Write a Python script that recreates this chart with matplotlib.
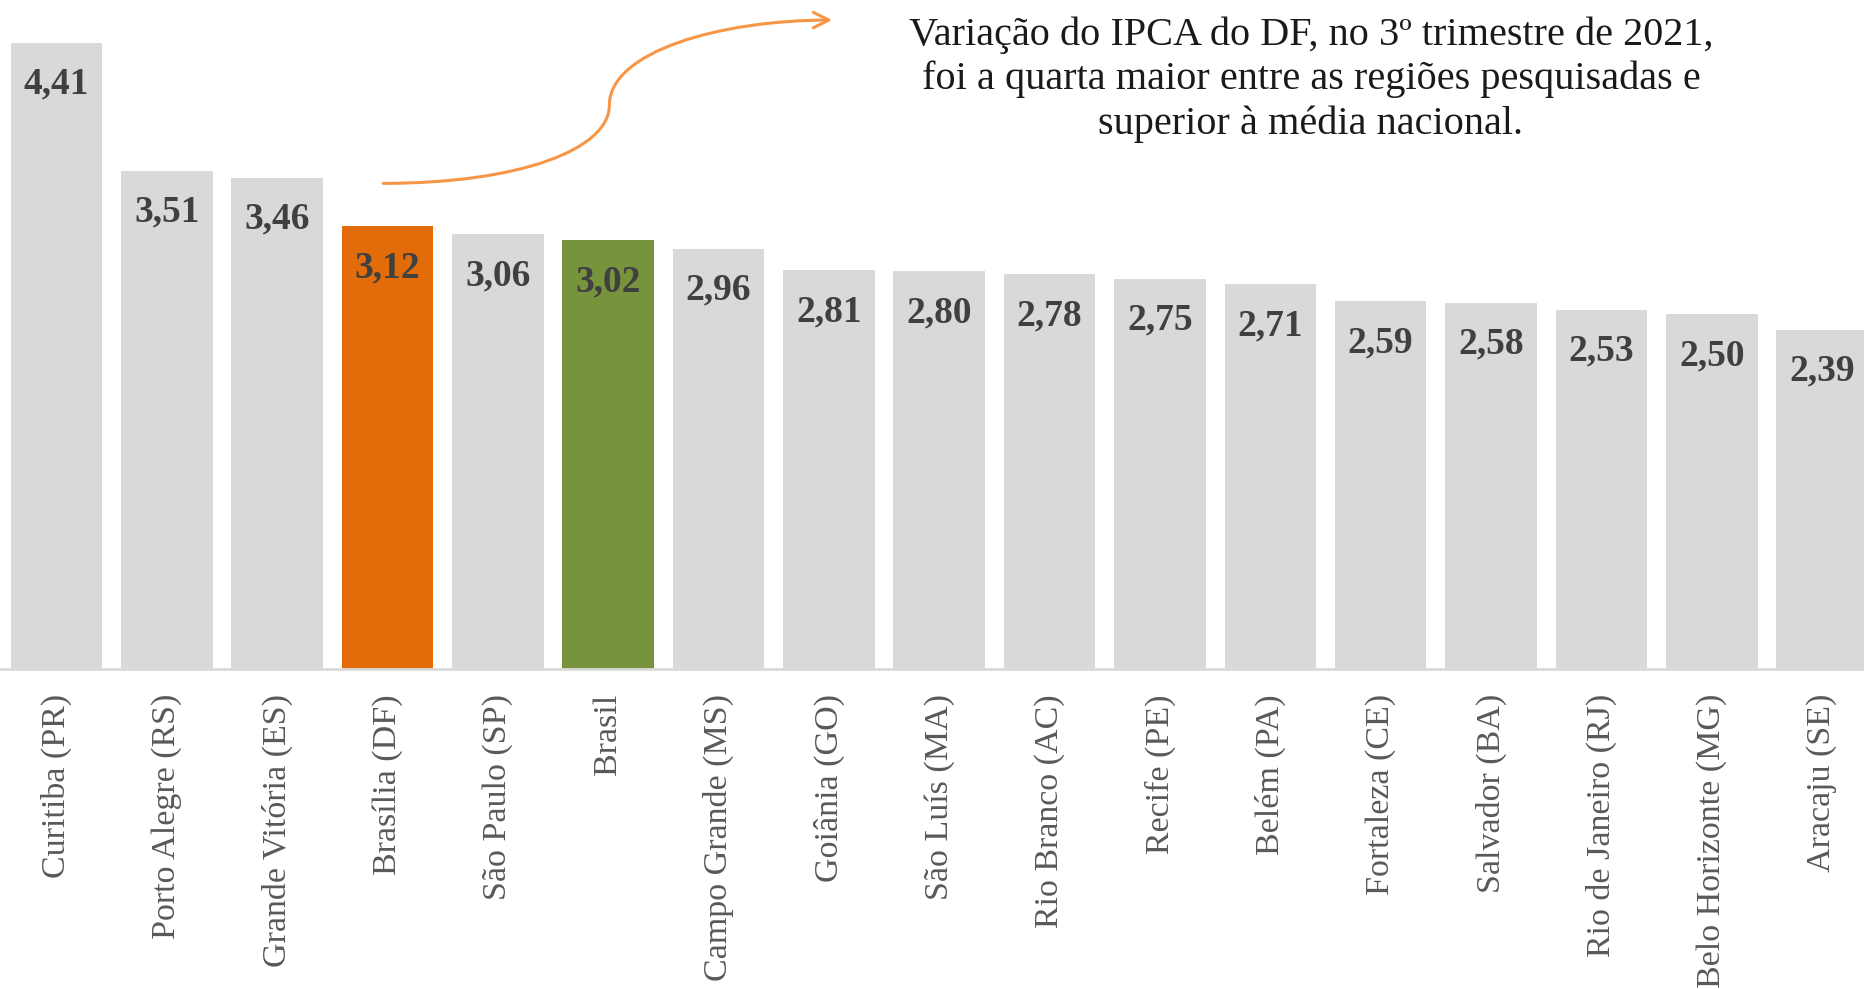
import matplotlib
matplotlib.use("Agg")
import matplotlib.pyplot as plt
from matplotlib.patches import FancyArrowPatch
from matplotlib.path import Path

regioes = [
    "Curitiba (PR)", "Porto Alegre (RS)", "Grande Vitória (ES)", "Brasília (DF)",
    "São Paulo (SP)", "Brasil", "Campo Grande (MS)", "Goiânia (GO)",
    "São Luís (MA)", "Rio Branco (AC)", "Recife (PE)", "Belém (PA)",
    "Fortaleza (CE)", "Salvador (BA)", "Rio de Janeiro (RJ)",
    "Belo Horizonte (MG)", "Aracaju (SE)",
]
ipca = [4.41, 3.51, 3.46, 3.12, 3.06, 3.02, 2.96, 2.81, 2.80, 2.78, 2.75,
        2.71, 2.59, 2.58, 2.53, 2.50, 2.39]

GRAY = "#d9d9d9"
ORANGE = "#e36c0a"
GREEN = "#77933c"
cores = [ORANGE if r == "Brasília (DF)" else GREEN if r == "Brasil" else GRAY
         for r in regioes]

plt.rcParams["font.family"] = ["Liberation Serif", "DejaVu Serif"]

fig = plt.figure(figsize=(18.64, 9.89), dpi=100)
ax = fig.add_axes([0, 320 / 989, 1, 669 / 989])

x = list(range(len(regioes)))
ax.bar(x, ipca, width=0.83, color=cores, zorder=2)
ax.set_xlim(-0.512, 16.38)
ax.set_ylim(0, 669 / 142)

for xi, v in zip(x, ipca):
    ax.annotate(f"{v:.2f}".replace(".", ","), (xi, v), xytext=(0, -30),
                textcoords="offset points", ha="center", va="center",
                fontsize=27, fontweight="bold", color="#404040")

for s in ["top", "right", "left"]:
    ax.spines[s].set_visible(False)
ax.spines["bottom"].set_color(GRAY)
ax.spines["bottom"].set_linewidth(2)
ax.set_yticks([])
ax.set_xticks(x)
ax.set_xticklabels(regioes, rotation=90, fontsize=24.5, color="#595959",
                   va="top", ha="center")
ax.tick_params(axis="x", length=0, pad=18)

# seta curva apontando para o comentário
verts = [(2.96, 3.42), (4.20, 3.42), (5.01, 3.66), (5.01, 3.97),
         (5.01, 4.35), (6.02, 4.57), (7.03, 4.57)]
codes = [Path.MOVETO] + [Path.CURVE4] * 6
seta = FancyArrowPatch(path=Path(verts, codes), arrowstyle="->",
                       mutation_scale=28, color="#f79646", lw=2.2,
                       clip_on=False)
ax.add_patch(seta)

fig.text(1311 / 1864, 1 - 16 / 989,
         "Variação do IPCA do DF, no 3º trimestre de 2021,\n"
         "foi a quarta maior entre as regiões pesquisadas e\n"
         "superior à média nacional.",
         ha="center", va="top", fontsize=29, color="#1a1a1a", linespacing=1.25)

fig.savefig("out.png", dpi=100)
